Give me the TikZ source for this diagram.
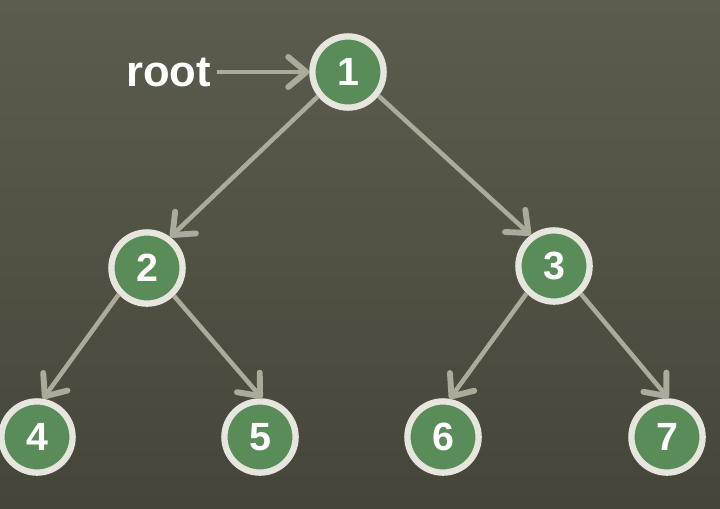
\documentclass[tikz,border=0pt]{standalone}
\usepackage{fontspec}
\setmainfont{Liberation Sans}
\usetikzlibrary{positioning, arrows.meta}

\definecolor{bgtop}{HTML}{5C5C4E}
\definecolor{bgbot}{HTML}{45453A}
\definecolor{leaf}{HTML}{5A8C5A}
\definecolor{rim}{HTML}{E6E6DE}
\definecolor{link}{HTML}{ABAB9C}

\tikzset{
  vertex/.style = {circle, draw = rim, line width = 4.5pt, fill = leaf,
                   minimum size = 1.78cm, inner sep = 0pt,
                   text = white, font = \fontsize{28}{28}\selectfont\bfseries},
  edge/.style   = {draw = link, line width = 3.2pt,
                   -{Straight Barb[length=4.5mm, width=7.5mm, line width=4.2pt, round]}}
}

\begin{document}
\begin{tikzpicture}[x = 0.025cm, y = -0.025cm]
    	\begin{scope}
    	  \fill[top color = bgtop, bottom color = bgbot] (0,0) rectangle (720,508);
    	  \useasboundingbox (0,0) rectangle (720,508);
    		\node[vertex] at (348,72) (A) {1};
    		\node[vertex] at (147,268) (B) {2};
    		\node[vertex] at (554,266) (C) {3};
    		\node[vertex] at (37,437) (D) {4};
    		\node[vertex] at (260,437) (E) {5};
    		\node[vertex] at (443,437) (F) {6};
    		\node[vertex] at (667,437) (G) {7};
    		\node[text = white, font = \fontsize{31}{31}\selectfont\bfseries,
    		      left = 2.45cm of A, inner sep = 0pt] (R) {root};
    		\draw[edge] (R.east) ++(6,0) coordinate (R0) (R0) -- (A);
    		\draw[edge] (A.219) -- (B.53);
    		\draw[edge] (A.322) -- (C.127);
    		\draw[edge] (B.223) -- (D.81);
    		\draw[edge] (B.314) -- (E.87);
    		\draw[edge] (C.225) -- (F.80);
    		\draw[edge] (C.314) -- (G.88);
    	\end{scope}
	\end{tikzpicture}
\end{document}
